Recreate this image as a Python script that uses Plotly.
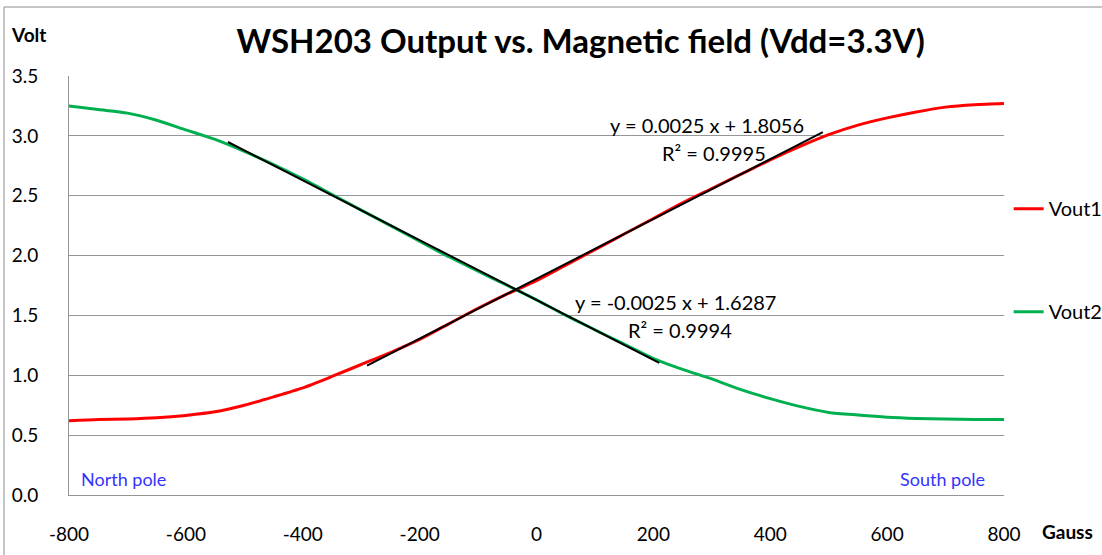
import plotly.graph_objects as go

gauss = [-800, -750, -700, -650, -600, -550, -500, -450, -400, -350, -300, -250, -200, -150,
         -100, -50, 0, 50, 100, 150, 200, 250, 300, 350, 400, 450, 500, 550, 600, 650, 700, 750, 800]
vout1 = [0.62, 0.63, 0.635, 0.645, 0.665, 0.695, 0.75, 0.82, 0.895, 0.99, 1.09, 1.19, 1.30, 1.43,
         1.56, 1.68, 1.79, 1.92, 2.05, 2.18, 2.31, 2.44, 2.56, 2.68, 2.80, 2.91, 3.01, 3.09, 3.15,
         3.20, 3.24, 3.26, 3.27]
vout2 = [3.25, 3.22, 3.19, 3.13, 3.05, 2.97, 2.87, 2.76, 2.64, 2.51, 2.38, 2.25, 2.12, 1.99,
         1.87, 1.75, 1.63, 1.50, 1.38, 1.26, 1.14, 1.05, 0.97, 0.88, 0.805, 0.74, 0.69, 0.668,
         0.65, 0.64, 0.635, 0.63, 0.63]

trend1_slope, trend1_icpt = 0.0025, 1.8056
trend2_slope, trend2_icpt = -0.0025, 1.6287
trend1_x = [-290, 490]
trend2_x = [-528, 210]
eq1 = ["y = 0.0025 x + 1.8056", "R² = 0.9995"]
eq2 = ["y = -0.0025 x + 1.6287", "R² = 0.9994"]

x_ticks = [-800, -600, -400, -200, 0, 200, 400, 600, 800]
x_tick_text = ["-800", "-600", "-400", "-200", "0", "200", "400", "600", "800"]
y_ticks = [0.0, 0.5, 1.0, 1.5, 2.0, 2.5, 3.0, 3.5]
y_tick_text = ["0.0", "0.5", "1.0", "1.5", "2.0", "2.5", "3.0", "3.5"]

FONT = "Lato"
fig = go.Figure()
fig.add_trace(go.Scatter(x=gauss, y=vout1, mode="lines", name="Vout1", legendgroup="a",
                         line=dict(color="#ff0000", width=3, shape="spline", smoothing=0.7)))
fig.add_trace(go.Scatter(x=gauss, y=vout2, mode="lines", name="Vout2", legendgroup="b",
                         line=dict(color="#00b050", width=3, shape="spline", smoothing=0.7)))
fig.add_trace(go.Scatter(x=trend1_x, y=[trend1_slope * v + trend1_icpt for v in trend1_x],
                         mode="lines", showlegend=False, line=dict(color="black", width=2)))
fig.add_trace(go.Scatter(x=trend2_x, y=[trend2_slope * v + trend2_icpt for v in trend2_x],
                         mode="lines", showlegend=False, line=dict(color="black", width=2)))

fig.update_layout(
    width=1102, height=555,
    margin=dict(l=69, r=98, t=76, b=60, autoexpand=False),
    paper_bgcolor="white", plot_bgcolor="white",
    font=dict(family=FONT, size=20, color="black"),
    title=dict(text="<b>WSH203 Output vs. Magnetic field (Vdd=3.3V)</b>",
               x=0.527, xanchor="center", y=0.925, yanchor="middle",
               font=dict(family=FONT, size=33, color="black")),
    legend=dict(x=1.005, xanchor="left", y=0.73, yanchor="top", tracegroupgap=74,
                font=dict(size=20), itemwidth=30, bgcolor="rgba(0,0,0,0)"),
    showlegend=True,
)
fig.update_xaxes(range=[-800, 800], tickvals=x_ticks, ticktext=x_tick_text, showgrid=False,
                 zeroline=False, showline=True, linecolor="#969696", linewidth=1,
                 ticks="outside", ticklen=22, tickcolor="rgba(0,0,0,0)",
                 tickfont=dict(size=19), automargin=False)
fig.update_yaxes(range=[0, 3.5], tickvals=y_ticks, ticktext=y_tick_text, showgrid=True,
                 gridcolor="#969696", gridwidth=1, zeroline=False, showline=True,
                 linecolor="#969696", linewidth=1, ticks="outside", ticklen=26,
                 tickcolor="rgba(0,0,0,0)", tickfont=dict(size=19), automargin=False)

annotations = [
    dict(text="<b>Volt</b>", xref="paper", yref="paper", x=-0.064, y=1.098,
         xanchor="left", yanchor="middle", showarrow=False, font=dict(size=19)),
    dict(text="<b>Gauss</b>", xref="paper", yref="paper", x=1.097, y=-0.088,
         xanchor="right", yanchor="middle", showarrow=False, font=dict(size=19)),
    dict(text="North pole", xref="paper", yref="paper", x=0.011, y=0.038,
         xanchor="left", yanchor="middle", showarrow=False, font=dict(size=18, color="#3333ff")),
    dict(text="South pole", xref="paper", yref="paper", x=0.982, y=0.038,
         xanchor="right", yanchor="middle", showarrow=False, font=dict(size=18, color="#3333ff")),
    dict(text=eq1[0], x=292, y=3.09, xanchor="center", yanchor="middle", showarrow=False),
    dict(text=eq1[1], x=303, y=2.86, xanchor="center", yanchor="middle", showarrow=False),
    dict(text=eq2[0], x=238, y=1.61, xanchor="center", yanchor="middle", showarrow=False),
    dict(text=eq2[1], x=246, y=1.38, xanchor="center", yanchor="middle", showarrow=False),
]
fig.update_layout(annotations=annotations)

# chart border (top and left edges visible)
fig.add_shape(type="line", xref="paper", yref="paper", x0=(4 - 69) / 935, x1=1.2,
              y0=(495 - 7) / 419, y1=(495 - 7) / 419, line=dict(color="#8c8c8c", width=1))
fig.add_shape(type="line", xref="paper", yref="paper", x0=(4 - 69) / 935, x1=(4 - 69) / 935,
              y0=-0.2, y1=(495 - 7) / 419, line=dict(color="#8c8c8c", width=1))

fig.write_html("out.html", config={"displayModeBar": False},
               post_script="document.body.style.margin='0px';")
